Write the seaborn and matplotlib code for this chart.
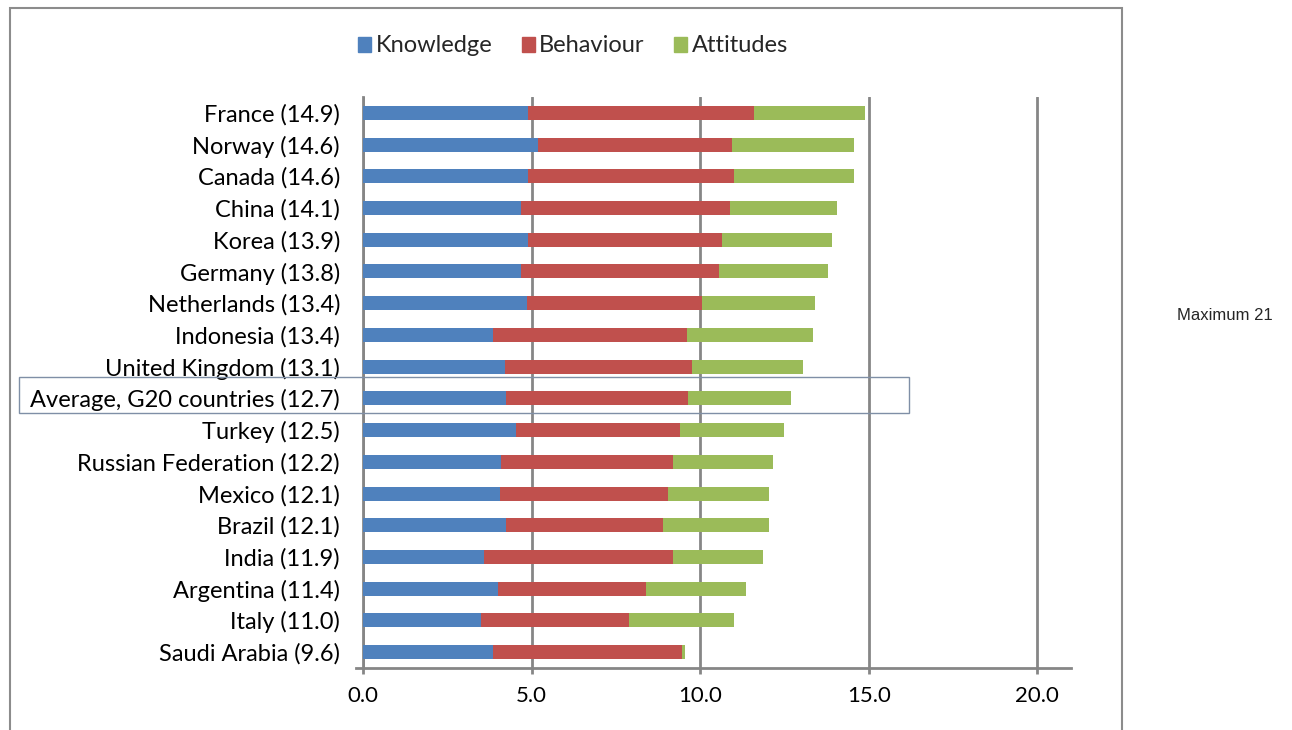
import pandas as pd
import matplotlib
matplotlib.use("Agg")
import matplotlib.pyplot as plt
import matplotlib.patches as mpatches
import seaborn as sns

# dados (de cima para baixo)
paises = ["France (14.9)", "Norway (14.6)", "Canada (14.6)", "China (14.1)", "Korea (13.9)",
          "Germany (13.8)", "Netherlands (13.4)", "Indonesia (13.4)", "United Kingdom (13.1)",
          "Average, G20 countries (12.7)", "Turkey (12.5)", "Russian Federation (12.2)",
          "Mexico (12.1)", "Brazil (12.1)", "India (11.9)", "Argentina (11.4)", "Italy (11.0)",
          "Saudi Arabia (9.6)"]
knowledge = [4.9, 5.2, 4.9, 4.7, 4.9, 4.7, 4.85, 3.85, 4.2, 4.25, 4.55, 4.1, 4.05, 4.25, 3.6, 4.0, 3.5, 3.85]
behaviour = [6.7, 5.75, 6.1, 6.2, 5.75, 5.85, 5.2, 5.75, 5.55, 5.4, 4.85, 5.1, 5.0, 4.65, 5.6, 4.4, 4.4, 5.6]
attitudes = [3.3, 3.6, 3.55, 3.15, 3.25, 3.25, 3.35, 3.75, 3.3, 3.05, 3.1, 2.95, 3.0, 3.15, 2.65, 2.95, 3.1, 0.1]
series = ["Knowledge", "Behaviour", "Attitudes"]
cores = ["#4F81BD", "#C0504D", "#9BBB59"]

data = pd.DataFrame({"pais": paises, "Knowledge": knowledge,
                     "Behaviour": behaviour, "Attitudes": attitudes})
data["kb"] = data["Knowledge"] + data["Behaviour"]
data["total"] = data["kb"] + data["Attitudes"]

sns.set_style("white")
plt.rcParams["font.family"] = ["Lato", "DejaVu Sans"]

fig = plt.figure(figsize=(12.92, 7.30), dpi=100)
W, H = 1292, 730
ax = fig.add_axes([363 / W, 1 - 668 / H, (1071 - 363) / W, (668 - 97) / H])

# barras empilhadas: desenha o acumulado por tras
for col, cor in zip(["total", "kb", "Knowledge"], cores[::-1]):
    sns.barplot(data=data, x=col, y="pais", orient="h", color=cor, width=0.44,
                saturation=1, linewidth=0, ax=ax, zorder=3)

ax.set_xlim(0, 21)
ax.set_ylim(17.5, -0.5)
ax.set_xticks([0, 5, 10, 15, 20])
ax.set_xticklabels(["0.0", "5.0", "10.0", "15.0", "20.0"])
ax.set_xlabel("")
ax.set_ylabel("")
ax.grid(axis="x", color="#868686", linewidth=2, zorder=0)
ax.grid(axis="y", visible=False)

for s in ["top", "right"]:
    ax.spines[s].set_visible(False)
for s in ["left", "bottom"]:
    ax.spines[s].set_color("#868686")
    ax.spines[s].set_linewidth(2)
ax.spines["bottom"].set_bounds(-0.2, 21)

ax.set_yticks([i - 0.5 for i in range(19)], minor=True)
ax.tick_params(axis="y", which="major", length=0, pad=16.5, labelsize=17, colors="black")
ax.tick_params(axis="y", which="minor", length=4, width=2, color="#868686", direction="out")
ax.tick_params(axis="x", which="major", length=4, width=2, color="#868686", pad=9,
               labelsize=16, labelcolor="black", bottom=True)

# legenda
handles = [mpatches.Patch(color=c, label=s) for s, c in zip(series, cores)]
fig.legend(handles=handles, loc="center", bbox_to_anchor=(573 / W, 1 - 46 / H), ncol=3,
           frameon=False, fontsize=17, handlelength=0.55, handleheight=0.6,
           handletextpad=0.2, columnspacing=1.25)

# moldura do grafico
fig.patches.append(mpatches.Rectangle((10 / W, -0.05), (1122 - 10) / W, 1 - 8 / H + 0.05,
                                      transform=fig.transFigure, fill=False,
                                      edgecolor="#8c8c8c", linewidth=1.5))
# caixa da media
fig.patches.append(mpatches.Rectangle((19 / W, 1 - 413 / H), (909 - 19) / W, 36 / H,
                                      transform=fig.transFigure, fill=False,
                                      edgecolor="#7f8fa6", linewidth=1))

fig.text(1225 / W, 1 - 316 / H, "Maximum 21", ha="center", va="center",
         fontsize=12, family="Liberation Sans")

fig.savefig("out.png", dpi=100)
